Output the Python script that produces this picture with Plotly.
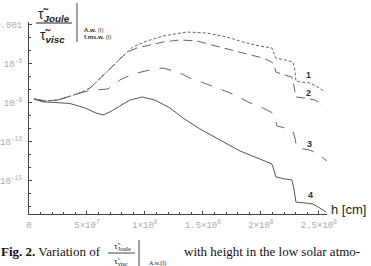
import plotly.graph_objects as go

# heights in units of 1e6 cm, values as log10 of the ratio
h1 = [4.3, 13.8, 25.0, 35.3, 44.0, 52.6, 63.8, 72.4, 81.0, 89.6, 101.7, 115.5, 125.9, 136.2,
      153.4, 170.7, 184.5, 199.1, 209.5, 211.2, 212.9, 220.7, 227.6, 229.3, 230.2, 233.6,
      242.2, 249.1, 255.2]
e1 = [-8.69, -8.85, -8.77, -8.46, -8.23, -7.85, -6.92, -6.15, -5.38, -4.69, -4.23, -3.85,
      -3.69, -3.54, -3.62, -3.92, -4.31, -4.62, -4.77, -5.15, -5.54, -5.69, -5.85, -6.46,
      -7.31, -7.38, -7.46, -7.77, -8.15]

h2 = [4.3, 13.8, 25.0, 35.3, 44.0, 52.6, 63.8, 72.4, 81.0, 87.1, 93.1, 104.3, 115.5, 130.2,
      144.8, 157.7, 173.3, 187.9, 201.7, 207.7, 211.2, 212.9, 220.7, 226.7, 228.4, 230.2,
      237.9, 246.5, 253.4]
e2 = [-8.69, -8.85, -8.77, -8.46, -8.23, -7.85, -6.92, -6.15, -5.38, -5.0, -4.77, -4.54,
      -4.31, -4.15, -4.23, -4.54, -4.92, -5.23, -5.54, -5.77, -6.0, -6.62, -6.85, -7.0,
      -7.62, -8.54, -8.62, -8.77, -9.15]

h3 = [4.3, 13.8, 25.0, 35.3, 44.0, 50.9, 56.9, 68.1, 78.4, 89.6, 104.3, 115.5, 128.4, 138.8,
      153.4, 164.6, 177.6, 188.8, 201.7, 210.3, 212.0, 213.8, 220.7, 227.6, 229.3, 231.0,
      242.2, 249.1, 256.9]
e3 = [-8.69, -8.85, -8.77, -8.46, -8.23, -8.08, -8.0, -7.92, -7.23, -6.77, -6.46, -6.31,
      -6.62, -7.08, -7.54, -7.92, -8.38, -8.92, -9.38, -9.77, -10.08, -10.77, -10.92,
      -11.15, -11.69, -12.46, -12.62, -12.92, -13.46]

h4 = [4.3, 12.1, 22.4, 35.3, 48.3, 57.8, 63.8, 69.8, 78.4, 87.1, 97.4, 108.6, 121.5, 132.7,
      147.4, 164.6, 181.9, 199.1, 209.5, 211.2, 212.9, 220.7, 226.7, 228.4, 230.2, 237.9,
      244.8, 250.8, 256.0]
e4 = [-8.69, -8.92, -8.96, -9.04, -9.38, -9.77, -9.92, -9.69, -9.23, -8.77, -8.54, -8.77,
      -9.38, -10.15, -11.0, -11.85, -12.69, -13.31, -13.69, -14.15, -14.69, -14.85, -14.92,
      -15.54, -16.62, -16.69, -16.77, -17.08, -17.38]

x_tickvals = [0, 5e7, 1e8, 1.5e8, 2e8, 2.5e8]
x_ticktext = ["0", "5×10<sup>7</sup>", "1×10<sup>8</sup>", "1.5×10<sup>8</sup>",
              "2×10<sup>8</sup>", "2.5×10<sup>8</sup>"]
y_tickvals = [1e-3, 1e-6, 1e-9, 1e-12, 1e-15]
y_ticktext = ["0.001", "10<sup>-6</sup>", "10<sup>-9</sup>", "10<sup>-12</sup>", "10<sup>-15</sup>"]
curve_labels = ["1", "2", "3", "4"]

W, H = 371, 266
L, R, T, B = 29, 44, 22, 52
pw, ph = W - L - R, H - T - B


def px(x):
    return (x - L) / pw


def py(y):
    return (H - B - y) / ph


fig = go.Figure()
styles = [("#666", "3px,2px"), ("#666", "9px,5px"), ("#666", "12px,10px"), ("#555", "solid")]
for (hh, ee), (c, d) in zip([(h1, e1), (h2, e2), (h3, e3), (h4, e4)], styles):
    fig.add_trace(go.Scatter(x=[v * 1e6 for v in hh], y=[10 ** v for v in ee], mode="lines",
                             line=dict(color=c, width=1, dash=d), showlegend=False,
                             hoverinfo="skip"))

tickfont = dict(family="Liberation Mono", size=9, color="#aaa")
fig.update_xaxes(range=[0, 2.57e8], showgrid=False, zeroline=False, showline=True,
                 linecolor="#444", linewidth=1, ticks="inside", ticklen=3, tickcolor="#444",
                 tickvals=x_tickvals, ticktext=x_ticktext, tickfont=tickfont,
                 ticklabelstandoff=2, automargin=False,
                 minor=dict(tickvals=[i * 1e7 for i in range(26)], ticks="inside", ticklen=2,
                            tickcolor="#444"))
fig.update_yaxes(type="log", range=[-17.54, -2.77], showgrid=False, zeroline=False,
                 showline=True, linecolor="#444", linewidth=1, ticks="inside", ticklen=3,
                 tickcolor="#444", tickvals=y_tickvals, ticktext=y_ticktext,
                 tickfont=tickfont, ticklabelstandoff=4, automargin=False,
                 minor=dict(tickvals=[10 ** (-k) for k in range(3, 18)], ticks="inside",
                            ticklen=2, tickcolor="#444"))

ann = []
# curve number labels
for lab, (x, y) in zip(curve_labels, [(308, 75), (308, 93), (309, 144), (310, 195)]):
    ann.append(dict(x=px(x), y=py(y), text="<b>" + lab + "</b>",
                    font=dict(family="Liberation Sans", size=9, color="#333")))
ann.append(dict(x=px(329), y=py(209), text="h [cm]", xanchor="left",
                font=dict(family="Liberation Sans", size=13, color="#222")))
# top-left fraction
ann.append(dict(x=px(54), y=py(15), text="τ̃<sub><b><i>Joule</i></b></sub>",
                font=dict(family="Liberation Sans", size=14, color="#222")))
ann.append(dict(x=px(52), y=py(36), text="τ̃<sub><b><i>visc</i></b></sub>",
                font=dict(family="Liberation Sans", size=14, color="#222")))
ann.append(dict(x=px(82), y=py(30), text="<b>A.w.</b> (I)", xanchor="left",
                font=dict(family="Liberation Sans", size=6, color="#333")))
ann.append(dict(x=px(82), y=py(37), text="<b>f.ms.w.</b> (I)", xanchor="left",
                font=dict(family="Liberation Sans", size=6, color="#333")))
# caption
cap = dict(family="Liberation Serif", size=13, color="#111")
ann.append(dict(x=px(-1), y=py(251), text="<b>Fig. 2.</b> Variation of", xanchor="left",
                font=cap))
ann.append(dict(x=px(122), y=py(246), text="τ̃<sub>Joule</sub>",
                font=dict(family="Liberation Serif", size=9, color="#111")))
ann.append(dict(x=px(121), y=py(261), text="τ̃<sub>visc</sub>",
                font=dict(family="Liberation Serif", size=9, color="#111")))
ann.append(dict(x=px(147), y=py(263), text="A.w.(I)", xanchor="left",
                font=dict(family="Liberation Serif", size=6, color="#111")))
ann.append(dict(x=px(182), y=py(251), text="with height in the low solar atmo-",
                xanchor="left", font=cap))
for a in ann:
    a.update(xref="paper", yref="paper", showarrow=False, yanchor="middle")
    a.setdefault("xanchor", "center")

shapes = [
    dict(type="line", xref="paper", yref="paper", x0=px(36), x1=px(72), y0=py(23), y1=py(23),
         line=dict(color="#222", width=1)),
    dict(type="line", xref="paper", yref="paper", x0=px(77), x1=px(77), y0=py(3), y1=py(42),
         line=dict(color="#444", width=1)),
    dict(type="line", xref="paper", yref="paper", x0=px(108), x1=px(135), y0=py(253),
         y1=py(253), line=dict(color="#111", width=0.8)),
    dict(type="line", xref="paper", yref="paper", x0=px(139), x1=px(139), y0=py(240),
         y1=py(266), line=dict(color="#111", width=0.8)),
]

fig.update_layout(width=W, height=H, margin=dict(l=L, r=R, t=T, b=B, autoexpand=False),
                  paper_bgcolor="white", plot_bgcolor="white",
                  annotations=ann, shapes=shapes)
fig.write_html("out.html")
